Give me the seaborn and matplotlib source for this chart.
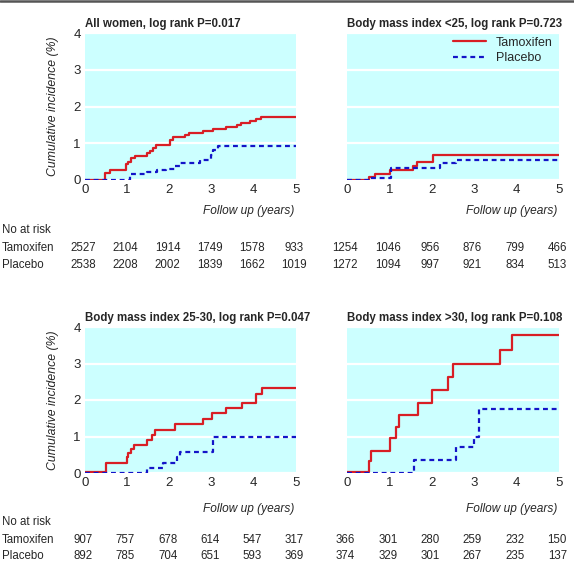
import matplotlib
matplotlib.use("Agg")
import matplotlib.pyplot as plt
import matplotlib.transforms as mtransforms
from matplotlib.lines import Line2D
import pandas as pd
import seaborn as sns

# Step curves: time (years) and cumulative incidence (%)
all_tam_t = [0, 0.47, 0.59, 0.97, 1.03, 1.08, 1.18, 1.46, 1.54, 1.62, 1.68, 2.01, 2.08,
             2.37, 2.47, 2.79, 3.04, 3.34, 3.61, 3.69, 3.91, 4.05, 4.18, 5]
all_tam_y = [0, 0.2, 0.26, 0.44, 0.5, 0.6, 0.66, 0.73, 0.8, 0.87, 0.96, 1.1, 1.16,
             1.23, 1.28, 1.32, 1.39, 1.44, 1.5, 1.55, 1.6, 1.66, 1.72, 1.72]
all_pla_t = [0, 1.07, 1.46, 1.7, 1.93, 2.13, 2.25, 2.72, 2.98, 3.04, 3.16, 5]
all_pla_y = [0, 0.16, 0.22, 0.26, 0.31, 0.38, 0.46, 0.55, 0.68, 0.82, 0.93, 0.93]

low_tam_t = [0, 0.51, 0.66, 1.01, 1.56, 1.66, 2.03, 5]
low_tam_y = [0, 0.09, 0.16, 0.26, 0.37, 0.48, 0.67, 0.67]
low_pla_t = [0, 0.57, 1.03, 2.19, 2.56, 5]
low_pla_y = [0, 0.05, 0.32, 0.46, 0.54, 0.54]

mid_tam_t = [0, 0.5, 0.99, 1.03, 1.08, 1.16, 1.46, 1.58, 1.66, 2.13, 2.79, 3.0,
             3.34, 3.72, 4.06, 4.2, 5]
mid_tam_y = [0.04, 0.27, 0.44, 0.55, 0.67, 0.78, 0.9, 1.03, 1.19, 1.33, 1.49, 1.64,
             1.79, 1.92, 2.17, 2.34, 2.34]
mid_pla_t = [0, 1.48, 1.86, 2.17, 2.25, 3.03, 5]
mid_pla_y = [0, 0.15, 0.27, 0.44, 0.58, 0.99, 0.99]

high_tam_t = [0, 0.51, 0.57, 1.01, 1.15, 1.22, 1.68, 2.01, 2.39, 2.49, 3.62, 3.9, 5]
high_tam_y = [0.04, 0.32, 0.6, 0.95, 1.27, 1.6, 1.93, 2.27, 2.63, 3.0, 3.38, 3.78, 3.78]
high_pla_t = [0, 1.57, 2.56, 3.0, 3.12, 5]
high_pla_y = [0, 0.36, 0.71, 0.99, 1.75, 1.75]

# Numbers at risk at years 0..5
all_risk_tam = [2527, 2104, 1914, 1749, 1578, 933]
all_risk_pla = [2538, 2208, 2002, 1839, 1662, 1019]
low_risk_tam = [1254, 1046, 956, 876, 799, 466]
low_risk_pla = [1272, 1094, 997, 921, 834, 513]
mid_risk_tam = [907, 757, 678, 614, 547, 317]
mid_risk_pla = [892, 785, 704, 651, 593, 369]
high_risk_tam = [366, 301, 280, 259, 232, 150]
high_risk_pla = [374, 329, 301, 267, 235, 137]

titles = ["All women, log rank P=0.017",
          "Body mass index <25, log rank P=0.723",
          "Body mass index 25-30, log rank P=0.047",
          "Body mass index >30, log rank P=0.108"]
years = [0, 1, 2, 3, 4, 5]

curves = [
    (all_tam_t, all_tam_y, all_pla_t, all_pla_y),
    (low_tam_t, low_tam_y, low_pla_t, low_pla_y),
    (mid_tam_t, mid_tam_y, mid_pla_t, mid_pla_y),
    (high_tam_t, high_tam_y, high_pla_t, high_pla_y),
]
risks = [
    (all_risk_tam, all_risk_pla),
    (low_risk_tam, low_risk_pla),
    (mid_risk_tam, mid_risk_pla),
    (high_risk_tam, high_risk_pla),
]

rows = []
for k, (tt, ty, pt, py) in enumerate(curves):
    for t, y in zip(tt, ty):
        rows.append({"panel": k, "arm": "Tamoxifen", "years": t, "inc": y})
    for t, y in zip(pt, py):
        rows.append({"panel": k, "arm": "Placebo", "years": t, "inc": y})
df = pd.DataFrame(rows)

sns.set_theme(style="white")
plt.rcParams["font.family"] = ["Liberation Sans", "DejaVu Sans"]
plt.rcParams["font.size"] = 9

palette = {"Tamoxifen": "#D81E25", "Placebo": "#1414C8"}
dashes = {"Tamoxifen": "", "Placebo": (2.2, 1.7)}

W, H = 574, 564
fig = plt.figure(figsize=(W / 100, H / 100), dpi=100)

# axes boxes in pixels: left, top, right, bottom
boxes = [(85, 33, 296, 180), (347, 33, 559, 180),
         (85, 327, 296, 473), (347, 327, 559, 473)]
axes = []
for (l, t, r, b) in boxes:
    axes.append(fig.add_axes([l / W, 1 - b / H, (r - l) / W, (b - t) / H]))

TXT = 8.3

for k, ax in enumerate(axes):
    sub = df[df["panel"] == k]
    sns.lineplot(data=sub, x="years", y="inc", hue="arm", style="arm",
                 palette=palette, dashes=dashes, drawstyle="steps-post",
                 estimator=None, sort=False, linewidth=1.6, ax=ax,
                 legend=(k == 1))
    ax.set_facecolor("#CCFFFF")
    ax.set_xlim(0, 5)
    ax.set_ylim(0, 4)
    ax.set_xticks(years)
    ax.set_yticks([0, 1, 2, 3, 4])
    ax.set_axisbelow(True)
    ax.yaxis.grid(True, color="white", linewidth=1.6)
    ax.xaxis.grid(False)
    for s in ax.spines.values():
        s.set_visible(False)
    ax.tick_params(length=0, labelsize=9.5, pad=3)
    ax.tick_params(axis="x", pad=3)
    ax.set_xlabel("")
    ax.set_title(titles[k], loc="left", fontweight="bold", fontsize=TXT, pad=4)
    if k % 2 == 0:
        ax.set_ylabel("Cumulative incidence (%)", fontstyle="italic", fontsize=8.8)
        ax.yaxis.set_label_coords(-0.125, 0.5)
    else:
        ax.set_ylabel("")
        ax.set_yticklabels([])

# legend in the top right panel
sns.move_legend(axes[1], "upper left", bbox_to_anchor=(0.5, 0.975), frameon=False,
                title=None, fontsize=9, handlelength=2.6, handletextpad=0.8,
                borderpad=0, borderaxespad=0, labelspacing=0.3)

# follow up labels and numbers at risk
follow_y = [211, 211, 509, 509]
risk_rows = [(230, 248, 265), (230, 248, 265), (522, 540, 556), (522, 540, 556)]
for k, ax in enumerate(axes):
    ax.text(0.99, 1 - follow_y[k] / H, "Follow up (years)",
            transform=mtransforms.blended_transform_factory(ax.transAxes, fig.transFigure),
            ha="right", va="center", fontstyle="italic", fontsize=8.6)
    trans = mtransforms.blended_transform_factory(ax.transData, fig.transFigure)
    _, ty, py = risk_rows[k]
    tam, pla = risks[k]
    for yr, a, b in zip(years, tam, pla):
        ax.text(yr - 0.04, 1 - ty / H, str(a), transform=trans, ha="center", va="center", fontsize=TXT)
        ax.text(yr - 0.04, 1 - py / H, str(b), transform=trans, ha="center", va="center", fontsize=TXT)
    if k % 2 == 0:
        ny, ty, py = risk_rows[k]
        fig.text(2 / W, 1 - ny / H, "No at risk", ha="left", va="center", fontsize=TXT)
        fig.text(2 / W, 1 - ty / H, "Tamoxifen", ha="left", va="center", fontsize=TXT)
        fig.text(2 / W, 1 - py / H, "Placebo", ha="left", va="center", fontsize=TXT)

# dark rule along the top edge
fig.add_artist(Line2D([0, 1], [1 - 1.2 / H, 1 - 1.2 / H], transform=fig.transFigure,
                      color="#555555", linewidth=1.8))

fig.savefig("out.png", dpi=100)
